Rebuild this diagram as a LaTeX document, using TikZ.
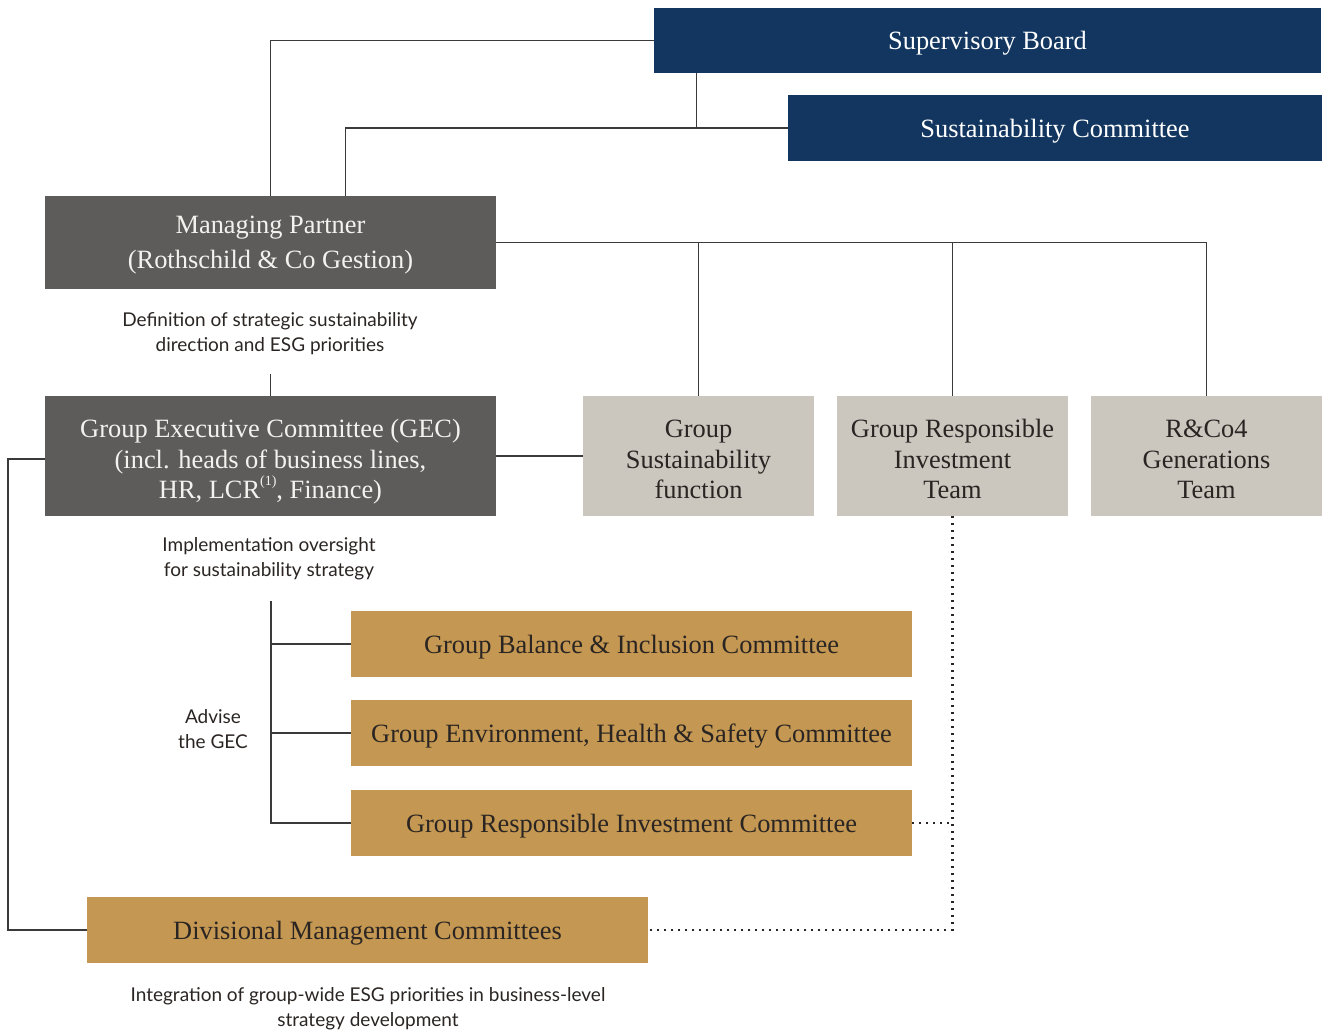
\documentclass[tikz,border=0pt]{standalone}
\usepackage{fontspec}
\setmainfont{Liberation Serif}
\newfontfamily\notefont{Lato}
\usetikzlibrary{positioning}

\definecolor{navy}{HTML}{12365F}
\definecolor{slate}{HTML}{5E5C5A}
\definecolor{stone}{HTML}{CBC7BF}
\definecolor{ochre}{HTML}{C49752}
\definecolor{ink}{HTML}{2A2522}
\definecolor{wire}{HTML}{3A3A3A}
\definecolor{paper}{HTML}{F4F2EE}

% small raised footnote marker
\newcommand\fnmark[1]{\raisebox{0.5em}{\fontsize{14}{14}\selectfont(#1)}}
% invisible strut that lowers three-line labels a little
\newcommand\topgap{\rule{0pt}{24pt}}

\begin{document}
\begin{tikzpicture}[x=1pt,y=-1pt,
  box/.style={rectangle, inner sep=0pt, align=center, text depth=-3pt,
    font=\fontsize{26.4}{30.5}\selectfont},
  navybox/.style={box, fill=navy, text=white},
  slatebox/.style={box, fill=slate, text=paper},
  stonebox/.style={box, fill=stone, text=ink, minimum width=231pt, minimum height=120pt},
  ochrebox/.style={box, fill=ochre, text=ink, minimum width=561pt, minimum height=66pt},
  note/.style={align=center, text=ink, inner sep=0pt,
    font=\notefont\fontsize{19}{25}\selectfont},
  link/.style={draw=wire, line width=1.3pt},
  dotlink/.style={draw=ink, line width=2.2pt, dash pattern=on 2.2pt off 4.8pt}
]
\useasboundingbox (0,0) rectangle (1325,1033);

% governance boxes
\node[navybox, minimum width=667pt, minimum height=65pt] (sb) at (987.5,40.5) {Supervisory Board};
\node[navybox, minimum width=534pt, minimum height=66pt] (sc) at (1055,128) {Sustainability Committee};
\node[slatebox, minimum width=451pt, minimum height=93pt, font=\fontsize{26.4}{35}\selectfont] (mp) at (270.5,242.5)
  {Managing Partner\\(Rothschild \& Co Gestion)};
\node[slatebox, minimum width=451pt, minimum height=120pt] (gec) at (270.5,456)
  {\topgap Group Executive Committee (GEC)\\(incl. heads of business lines,\\HR, LCR\fnmark{1}, Finance)};

% support functions
\node[stonebox] (gs)  at (698.5,456) {\topgap Group\\Sustainability\\function};
\node[stonebox] (gri) at (952.5,456) {\topgap Group Responsible\\Investment\\Team};
\node[stonebox] (rco) at (1206.5,456) {\topgap R\&Co4\\Generations\\Team};

% committees
\node[ochrebox] (bic) at (631.5,644) {Group Balance \& Inclusion Committee};
\node[ochrebox] (ehs) at (631.5,733) {Group Environment, Health \& Safety Committee};
\node[ochrebox] (ric) at (631.5,823) {Group Responsible Investment Committee};
\node[ochrebox] (dmc) at (367.5,930) {Divisional Management Committees};

% notes
\node[note] (def) at (270,334) {Definition of strategic sustainability\\direction and ESG priorities};
\node[note] (impl) at (269,558.5) {Implementation oversight\\for sustainability strategy};
\node[note] (adv) at (213,729.5) {Advise\\the GEC};
\node[note] (integ) at (368,1009) {Integration of group-wide ESG priorities in business-level\\strategy development};

% helper points
\coordinate (mpstub) at (270.5,374);
\coordinate (spine) at (271,601);
\coordinate (rail) at (8,0);

% solid connectors
\draw[link] (sb.west) -| (mp.north);
\draw[link] ([xshift=43pt]sb.south west) |- (sc.west);
\draw[link] (sc.west) -| ([xshift=301pt]mp.north west);
\draw[link] (mp.east) -| (rco.north);
\draw[link] (gs.north) -- (gs.north |- mp.east);
\draw[link] (gri.north) -- (gri.north |- mp.east);
\draw[link] (mpstub) -- (gec.north);
\draw[link] (gec.east) -- (gs.west);
\draw[link] ([yshift=-3pt]gec.west) -| (rail |- dmc.west) -- (dmc.west);
\draw[link] (spine) |- (ric.west);
\draw[link] (bic.west) -- (bic.west -| spine);
\draw[link] (ehs.west) -- (ehs.west -| spine);

% dotted connectors
\draw[dotlink] (gri.south) |- (dmc.east);
\draw[dotlink] (ric.east) -- (ric.east -| gri.south);
\end{tikzpicture}
\end{document}
